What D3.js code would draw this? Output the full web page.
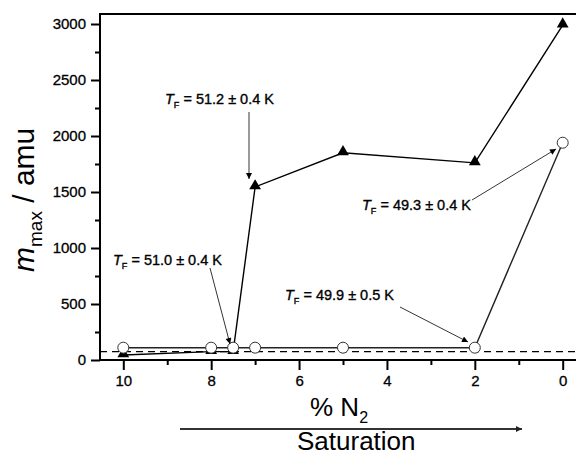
<!DOCTYPE html>
<head>
<meta charset="utf-8">
<style>
  body { margin: 0; background: #fff; }
  text { font-family: "Liberation Sans", Arial, sans-serif; fill: #000; }
</style>
</head>
<body>
<div id='chart'></div>
<script src="https://cdnjs.cloudflare.com/ajax/libs/d3/7.8.5/d3.min.js"></script>
<script>
// % N2 in the gas mixture
var n2Percent = [10, 8, 7.5, 7, 5, 2, 0];
// filled triangles
var triangleMass = [45, 75, 75, 1545, 1850, 1760, 2990];
// open circles
var circleMass = [110, 110, 110, 110, 110, 110, 1940];
// dashed reference level
var baseLevel = 75;
var xTicks = [10, 8, 6, 4, 2, 0];
var yTicks = [0, 500, 1000, 1500, 2000, 2500, 3000];
var tfLabels = ['51.2 \u00b1 0.4 K', '51.0 \u00b1 0.4 K', '49.9 \u00b1 0.5 K', '49.3 \u00b1 0.4 K'];

var width = 576, height = 455;

var svg = d3.select('#chart').append('svg')
  .attr('width', width)
  .attr('height', height);

var x = d3.scaleLinear().domain([10, 0]).range([123.3, 562.7]);
var y = d3.scaleLinear().domain([0, 3000]).range([360, 24]);

var frameLeft = 100, frameTop = 14, frameRight = 590, frameBottom = y(0);

svg.append('defs').append('marker')
  .attr('id', 'head')
  .attr('viewBox', '0 0 10 10')
  .attr('refX', 10).attr('refY', 5)
  .attr('markerWidth', 8).attr('markerHeight', 6)
  .attr('markerUnits', 'userSpaceOnUse')
  .attr('orient', 'auto')
  .append('path').attr('d', 'M0,0L10,5L0,10Z').attr('fill', '#000');

svg.select('defs').append('marker')
  .attr('id', 'bighead')
  .attr('viewBox', '0 0 10 10')
  .attr('refX', 10).attr('refY', 5)
  .attr('markerWidth', 12).attr('markerHeight', 6)
  .attr('markerUnits', 'userSpaceOnUse')
  .attr('orient', 'auto')
  .append('path').attr('d', 'M0,0L10,5L0,10Z').attr('fill', '#222');

// dashed base level
svg.append('line')
  .attr('x1', frameLeft).attr('x2', frameRight)
  .attr('y1', y(baseLevel)).attr('y2', y(baseLevel))
  .attr('stroke', '#000').attr('stroke-width', 1.2)
  .attr('stroke-dasharray', '7,5');

// axes
var xAxis = d3.axisBottom(x).tickValues(xTicks).tickFormat(d3.format('d'))
  .tickSize(10).tickPadding(5);
var xMinor = d3.axisBottom(x).tickValues([9, 7, 5, 3, 1]).tickFormat('').tickSize(5);
var yAxis = d3.axisLeft(y).tickValues(yTicks).tickFormat(d3.format('d'))
  .tickSize(9).tickPadding(5);
var yMinor = d3.axisLeft(y).tickValues([250, 750, 1250, 1750, 2250, 2750]).tickFormat('').tickSize(5);

function styleAxis(g) {
  g.select('.domain').remove();
  g.selectAll('line').attr('stroke', '#000').attr('stroke-width', 2);
  g.selectAll('text').attr('font-size', 15).attr('fill', '#000')
    .attr('stroke', '#000').attr('stroke-width', 0.3)
    .style('font-family', '"Liberation Sans", Arial, sans-serif');
}

svg.append('g').attr('transform', 'translate(0,' + frameBottom + ')').call(xAxis).call(styleAxis);
svg.append('g').attr('transform', 'translate(0,' + frameBottom + ')').call(xMinor).call(styleAxis);
svg.append('g').attr('transform', 'translate(' + frameLeft + ',0)').call(yAxis).call(styleAxis);
svg.append('g').attr('transform', 'translate(' + frameLeft + ',0)').call(yMinor).call(styleAxis);

// frame
svg.append('path')
  .attr('d', 'M' + frameRight + ',' + frameTop + 'H' + frameLeft + 'V' + frameBottom + 'H' + frameRight)
  .attr('fill', 'none').attr('stroke', '#000').attr('stroke-width', 2);

// series lines
var line = d3.line().x(function(d) { return x(d[0]); }).y(function(d) { return y(d[1]); });
var triData = d3.zip(n2Percent, triangleMass);
var circData = d3.zip(n2Percent, circleMass);

svg.append('path').datum(circData).attr('d', line)
  .attr('fill', 'none').attr('stroke', '#222').attr('stroke-width', 1.4);
svg.append('path').datum(triData).attr('d', line)
  .attr('fill', 'none').attr('stroke', '#000').attr('stroke-width', 1.4);

svg.selectAll('path.tri').data(triData).enter().append('path')
  .attr('class', 'tri')
  .attr('d', d3.symbol().type(d3.symbolTriangle).size(60))
  .attr('transform', function(d) { return 'translate(' + x(d[0]) + ',' + (y(d[1]) - 1) + ')'; })
  .attr('fill', '#000');

svg.selectAll('circle.pt').data(circData).enter().append('circle')
  .attr('class', 'pt')
  .attr('cx', function(d) { return x(d[0]); })
  .attr('cy', function(d) { return y(d[1]); })
  .attr('r', 5.5)
  .attr('fill', '#fff').attr('stroke', '#333').attr('stroke-width', 1);

// T_F callouts
var callouts = [
  {label: tfLabels[0], tx: 165, ty: 104, x1: 249, y1: 112, x2: 249, y2: 179},
  {label: tfLabels[1], tx: 113, ty: 265, x1: 210, y1: 268, x2: 230, y2: 344},
  {label: tfLabels[2], tx: 285, ty: 300, x1: 400, y1: 307, x2: 468, y2: 342},
  {label: tfLabels[3], tx: 362, ty: 210, x1: 472, y1: 200, x2: 556, y2: 149}
];

var cg = svg.selectAll('g.callout').data(callouts).enter().append('g').attr('class', 'callout');
cg.append('line')
  .attr('x1', function(d) { return d.x1; }).attr('y1', function(d) { return d.y1; })
  .attr('x2', function(d) { return d.x2; }).attr('y2', function(d) { return d.y2; })
  .attr('stroke', '#000').attr('stroke-width', 0.8)
  .attr('marker-end', 'url(#head)');
var ct = cg.append('text')
  .attr('x', function(d) { return d.tx; })
  .attr('y', function(d) { return d.ty; })
  .attr('font-size', 14.5)
  .attr('stroke', '#000').attr('stroke-width', 0.35);
ct.append('tspan').attr('font-style', 'italic').text('T');
ct.append('tspan').attr('font-size', 9).attr('dy', 4).text('F');
ct.append('tspan').attr('dy', -4).text(function(d) { return ' = ' + d.label; });

// x title
var xt = svg.append('text').attr('x', 310).attr('y', 416).attr('font-size', 26);
xt.append('tspan').text('% N');
xt.append('tspan').attr('font-size', 16).attr('dy', 7).text('2');

// saturation arrow
svg.append('line')
  .attr('x1', 180).attr('x2', 522).attr('y1', 429).attr('y2', 429)
  .attr('stroke', '#333').attr('stroke-width', 2)
  .attr('marker-end', 'url(#bighead)');
svg.append('text').attr('x', 297).attr('y', 450).attr('font-size', 26).text('Saturation');

// y title
var yt = svg.append('text')
  .attr('transform', 'translate(34,272) rotate(-90)')
  .attr('font-size', 30);
yt.append('tspan').attr('font-style', 'italic').text('m');
yt.append('tspan').attr('font-size', 19).attr('dy', 8).text('max');
yt.append('tspan').attr('dy', -8).text(' / amu');
</script>
</body>
</html>
